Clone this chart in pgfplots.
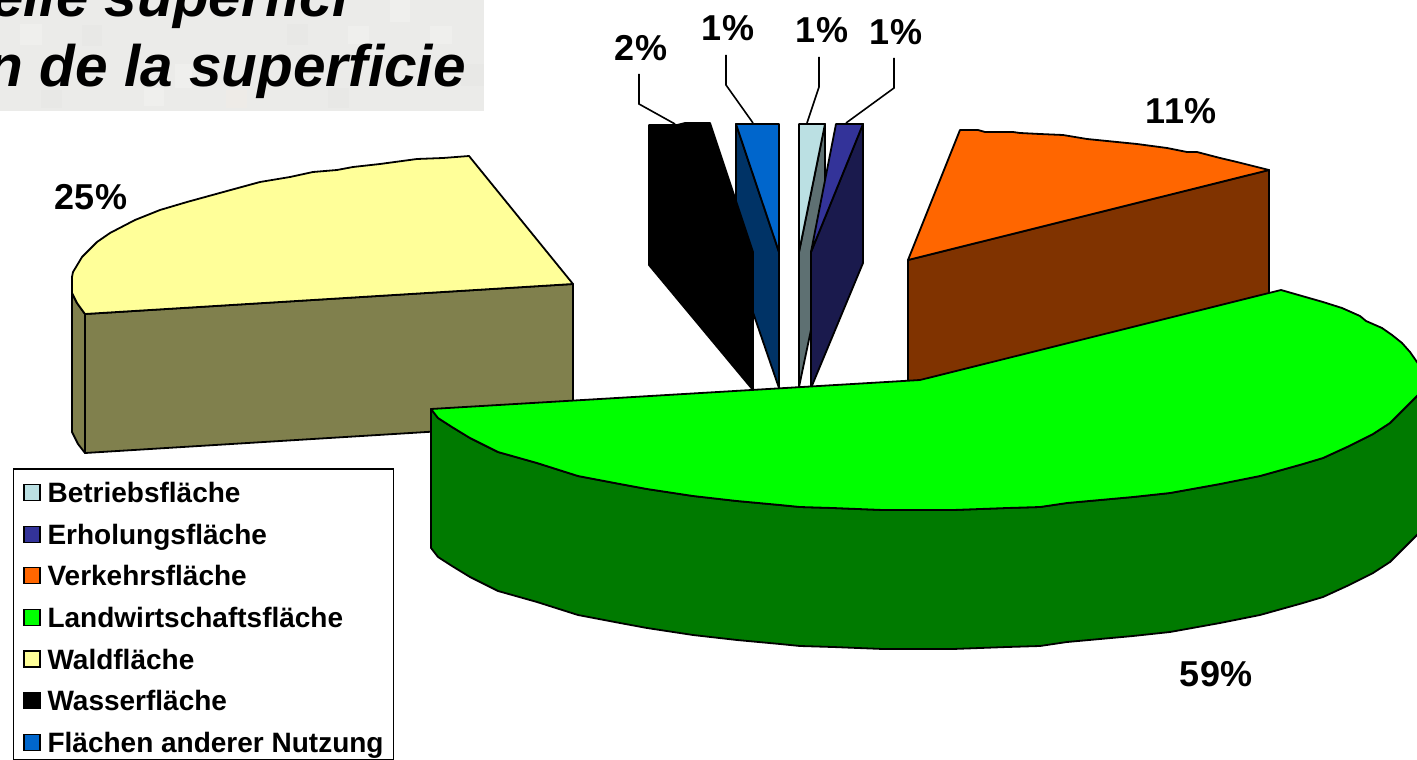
\documentclass[border=0pt]{standalone}
\usepackage{fontspec}
\setmainfont{Liberation Sans}
\usepackage{pgfplots}
\pgfplotsset{compat=1.18}

% Slice colours: top faces and their shaded side walls
\definecolor{betrieb}{HTML}{BBE0E3}
\definecolor{betriebW}{HTML}{5E7072}
\definecolor{erholung}{HTML}{333399}
\definecolor{erholungW}{HTML}{1A1A4D}
\definecolor{verkehr}{HTML}{FF6600}
\definecolor{verkehrW}{HTML}{803300}
\definecolor{land}{HTML}{00FF00}
\definecolor{landW}{HTML}{007A00}
\definecolor{wald}{HTML}{FFFF99}
\definecolor{waldW}{HTML}{80804D}
\definecolor{andere}{HTML}{0066CC}
\definecolor{andereW}{HTML}{003366}
\definecolor{banner}{HTML}{EBEBE9}
\definecolor{tileA}{HTML}{EFEFED}
\definecolor{tileB}{HTML}{E8E8E6}
\definecolor{tileC}{HTML}{EEEBE7}

\tikzset{
  pct/.style={font=\fontsize{36}{36}\selectfont\bfseries,anchor=center,inner sep=0pt},
}
\pgfplotsset{
  face/.style={forget plot,fill=#1,draw=black,line width=1.8pt,line join=round},
  leader/.style={forget plot,draw=black,line width=1.6pt},
  tile/.style={forget plot,fill=#1,draw=none},
  swatch/.style={legend image code/.code={%
    \filldraw[fill=#1,draw=black,line width=1.3pt] (0pt,-11pt) rectangle (16pt,5pt);}},
}

\begin{document}
\begin{tikzpicture}
\path[use as bounding box,clip] (0,0) rectangle (1417pt,760pt);
\begin{axis}[
  at={(0,0)},anchor=south west,
  scale only axis,width=1417pt,height=760pt,
  xmin=0,xmax=1417,ymin=0,ymax=760,y dir=reverse,
  hide axis,no markers,
  legend cell align=left,
  legend style={
    at={(axis cs:12.5,468)},anchor=north west,
    draw=black,line width=1.5pt,fill=white,
    font=\fontsize{28}{28}\selectfont\bfseries,
    inner xsep=10pt,inner ysep=0pt,
    row sep=0pt,column sep=7pt,
    nodes={inner sep=0pt,text height=34pt,text depth=7.6pt},
  },
]

% heading band behind the title, with its faint mosaic
\addplot[forget plot,fill=banner,draw=none] coordinates {(-5,-5)(484,-5)(484,111)(-5,111)} -- cycle;
\addplot[tile=tileA] coordinates {(390,0)(410,0)(410,22)(390,22)} -- cycle;
\addplot[tile=tileA] coordinates {(175,64)(192,64)(192,88)(175,88)} -- cycle;
\addplot[tile=tileC] coordinates {(226,90)(247,90)(247,108)(226,108)} -- cycle;
\addplot[tile=tileB] coordinates {(461,64)(484,64)(484,86)(461,86)} -- cycle;
\addplot[tile=tileA] coordinates {(20,24)(42,24)(42,45)(20,45)} -- cycle;
\addplot[tile=tileB] coordinates {(82,25)(102,25)(102,46)(82,46)} -- cycle;
\addplot[tile=tileA] coordinates {(144,88)(164,88)(164,106)(144,106)} -- cycle;
\addplot[tile=tileB] coordinates {(287,24)(308,24)(308,45)(287,45)} -- cycle;
\addplot[tile=tileA] coordinates {(348,26)(369,26)(369,44)(348,44)} -- cycle;
\addplot[tile=tileB] coordinates {(328,88)(349,88)(349,108)(328,108)} -- cycle;
\addplot[tile=tileA] coordinates {(430,26)(452,26)(452,44)(430,44)} -- cycle;
\addplot[tile=tileB] coordinates {(41,90)(62,90)(62,108)(41,108)} -- cycle;

\node[anchor=base east,inner sep=0pt,font=\fontsize{58.5}{60}\selectfont\bfseries\itshape] at (axis cs:349,17) {elle superfici};
\node[anchor=base east,inner sep=0pt,font=\fontsize{58.5}{60}\selectfont\bfseries\itshape] at (axis cs:466,87) {n de la superficie};

% Waldfläche 25 %
\addplot[face=waldW] coordinates {(72,293)(72,432)(78,444)(85,453)(85,314)(77,303)} -- cycle;
\addplot[face=waldW] coordinates {(85,314)(573,284)(573,423)(85,453)} -- cycle;
\addplot[face=wald] coordinates {(85,314)(573,284)(469,156)(443,158)(417,159)(380,164)(353,167)(337,170)(313,172)(290,177)(260,182)(227,191)(187,202)(160,210)(135,220)(110,233)(97,242)(82,257)(73,272)(72,277)(72,293)(77,303)} -- cycle;

% Verkehrsfläche 11 %
\addplot[face=verkehrW] coordinates {(908,260)(1269,170)(1269,309)(908,399)} -- cycle;
\addplot[face=verkehr] coordinates {(908,260)(1269,170)(1237,162)(1220,158)(1197,152)(1187,152)(1167,148)(1137,144)(1117,142)(1087,139)(1063,135)(1040,134)(1020,133)(1013,132)(985,132)(978,130)(960,130)} -- cycle;

% Flächen anderer Nutzung 1 %
\addplot[face=andereW] coordinates {(736,124)(779,252)(779,388)(736,263)} -- cycle;
\addplot[face=andere] coordinates {(736,124)(779,124)(779,252)} -- cycle;

% Wasserfläche 2 %
\addplot[face=black] coordinates {(649,125)(677,125)(685,123)(710,123)(753,252)(753,390)(649,265)} -- cycle;

% Betriebsfläche 1 %
\addplot[face=betriebW] coordinates {(825,124)(825,263)(799,387)(799,252)} -- cycle;
\addplot[face=betrieb] coordinates {(799,124)(825,124)(799,252)} -- cycle;

% Erholungsfläche 1 %
\addplot[face=erholungW] coordinates {(863,124)(863,263)(811,388)(811,252)} -- cycle;
\addplot[face=erholung] coordinates {(836,124)(863,124)(811,252)} -- cycle;

% Landwirtschaftsfläche 59 %: wall first, top face over it
\addplot[face=landW] coordinates {(431,409)(438,418)(452,427)(470,438)(498,452)(537,463)(578,476)(620,484)(647,489)(693,496)(737,501)(780,505)(800,507)(833,508)(883,510)(953,510)(1007,508)(1040,507)(1067,503)(1133,497)(1170,493)(1220,484)(1260,476)(1303,464)(1323,458)(1347,447)(1373,434)(1390,423)(1403,410)(1417,396)(1430,380)(1430,519)(1417,535)(1403,549)(1390,562)(1373,573)(1347,586)(1323,597)(1303,603)(1260,615)(1220,623)(1170,632)(1133,636)(1067,642)(1040,646)(1007,647)(953,649)(883,649)(833,647)(800,646)(780,644)(737,640)(693,635)(647,628)(620,623)(578,615)(537,602)(498,591)(470,577)(452,566)(438,557)(431,548)} -- cycle;
\addplot[face=land] coordinates {(431,409)(920,380)(1281,290)(1302,296)(1323,302)(1342,308)(1360,316)(1366,321)(1382,328)(1392,335)(1402,343)(1410,352)(1417,362)(1430,380)(1417,396)(1403,410)(1390,423)(1373,434)(1347,447)(1323,458)(1303,464)(1260,476)(1220,484)(1170,493)(1133,497)(1067,503)(1040,507)(1007,508)(953,510)(883,510)(833,508)(800,507)(780,505)(737,501)(693,496)(647,489)(620,484)(578,476)(537,463)(498,452)(470,438)(452,427)(438,418)} -- cycle;

% leader lines from the labels to the narrow slices
\addplot[leader] coordinates {(639,74)(639,104)(675,124)};
\addplot[leader] coordinates {(726,55)(726,85)(753,123)};
\addplot[leader] coordinates {(819,57)(819,87)(807,123)};
\addplot[leader] coordinates {(894,58)(894,88)(846,123)};

% value labels
\node[pct] at (axis cs:641,48) {2\%};
\node[pct] at (axis cs:728,28) {1\%};
\node[pct] at (axis cs:822,30) {1\%};
\node[pct] at (axis cs:896,32) {1\%};
\node[pct] at (axis cs:1181,111) {11\%};
\node[pct] at (axis cs:91,197) {25\%};
\node[pct] at (axis cs:1216,674) {59\%};

% legend
\addlegendimage{swatch=betrieb}\addlegendentry{Betriebsfläche}
\addlegendimage{swatch=erholung}\addlegendentry{Erholungsfläche}
\addlegendimage{swatch=verkehr}\addlegendentry{Verkehrsfläche}
\addlegendimage{swatch=land}\addlegendentry{Landwirtschaftsfläche}
\addlegendimage{swatch=wald}\addlegendentry{Waldfläche}
\addlegendimage{swatch=black}\addlegendentry{Wasserfläche}
\addlegendimage{swatch=andere}\addlegendentry{Flächen anderer Nutzung}
\end{axis}
\end{tikzpicture}
\end{document}
